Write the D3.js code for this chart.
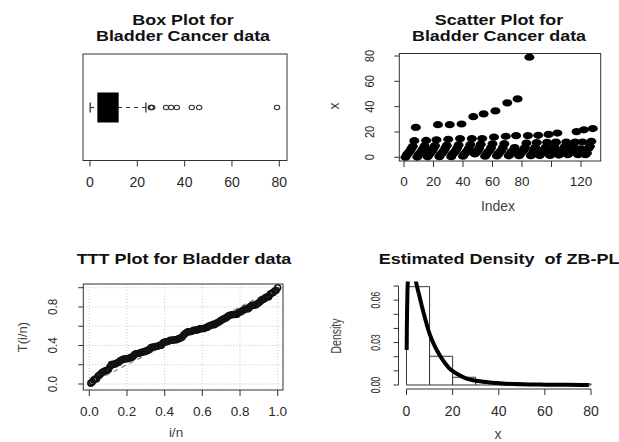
<!DOCTYPE html>
<html>
<head>
<meta charset="utf-8">
<script src="https://cdn.jsdelivr.net/npm/d3@7"></script>
<style>
  html, body { margin: 0; padding: 0; background: #fff; }
  svg { display: block; }
  text { font-family: 'Liberation Sans', Arial, sans-serif; white-space: pre; }
</style>
</head>
<body>
<svg id="chart" width="619" height="442"></svg>
<script>
// ---------------- data ----------------
// Bladder cancer remission times (128 patients), in plotting order (Index 1..128)
const remission = [
  0.08, 2.09, 3.48, 4.87, 6.94, 8.66, 13.11, 23.63,
  0.20, 2.23, 3.52, 4.98, 6.97, 9.02, 13.29,
  0.40, 2.26, 3.57, 5.06, 7.09, 9.22, 13.80, 25.74,
  0.50, 2.46, 3.64, 5.09, 7.26, 9.47, 14.24, 25.82,
  0.51, 2.54, 3.70, 5.17, 7.28, 9.74, 14.76, 26.31,
  0.81, 2.62, 3.82, 5.32, 7.32, 10.06, 14.77, 32.15,
  2.64, 3.88, 5.32, 7.39, 10.34, 14.83, 34.26,
  0.90, 2.69, 4.18, 5.34, 7.59, 10.66, 15.96, 36.66,
  1.05, 2.69, 4.23, 5.41, 7.62, 10.75, 16.62, 43.01,
  1.19, 2.75, 4.26, 5.41, 7.63, 17.12, 46.12,
  1.26, 2.83, 4.33, 5.49, 7.66, 11.25, 17.14, 79.05,
  1.35, 2.87, 5.62, 7.87, 11.64, 17.36,
  1.40, 3.02, 4.34, 5.71, 7.93, 11.79, 18.10,
  1.46, 4.40, 5.85, 8.26, 11.98, 19.13,
  1.76, 3.25, 4.50, 6.25, 8.37, 12.02,
  2.02, 3.31, 4.51, 6.54, 8.53, 12.03, 20.28,
  2.02, 3.36, 6.76, 12.07, 21.73,
  2.07, 3.36, 6.93, 8.65, 12.63, 22.69
];

const titles = {
  box: ["Box Plot for", "Bladder Cancer data"],
  scatter: ["Scatter Plot for", "Bladder Cancer data"],
  ttt: "TTT Plot for Bladder data",
  dens: "Estimated Density  of ZB-PL"
};

const boxTicks = [0, 20, 40, 60, 80];
const scatterXTicks = [0, 20, 40, 60, 80, 100, 120];
const scatterXLabels = ["0", "20", "40", "60", "80", "", "120"];
const scatterYTicks = [0, 20, 40, 60, 80];
const tttTicks = [0, 0.2, 0.4, 0.6, 0.8, 1.0];
const tttXLabels = ["0.0", "0.2", "0.4", "0.6", "0.8", "1.0"];
const tttYLabels = ["0.0", "", "0.4", "", "0.8", ""];
const densXTicks = [0, 20, 40, 60, 80];
const densYTicks = [0, 0.01, 0.02, 0.03, 0.04, 0.05, 0.06, 0.07];
const densYLabels = ["0.00", "", "", "0.03", "", "", "0.06", ""];
const histBreaks = [0, 10, 20, 30, 40, 50, 60, 70, 80];

// fitted ZB-PL density
const zbplX = [0.08, 0.15, 0.25, 0.4, 0.6, 1.0, 2.0, 3.0, 4.12, 5.29, 6.72, 8.15, 9.45, 11.36, 13.53, 15.7, 18.56, 22.2, 25.8, 30.9, 37.4, 43.1, 50, 60, 70, 79.05];
const zbplY = [0.0247, 0.040, 0.052, 0.065, 0.075, 0.085, 0.092, 0.085, 0.073, 0.0649, 0.0554, 0.0465, 0.0389, 0.0306, 0.0235, 0.0177, 0.0118, 0.0076, 0.0047, 0.0028, 0.0016, 0.0009, 0.0005, 0.00025, 0.00012, 0.00006];

// ---------------- helpers ----------------
const svg = d3.select("#chart");
svg.append("rect").attr("width", 619).attr("height", 442).attr("fill", "#fff");

function txt(x, y, s, o = {}) {
  let tr = `translate(${x},${y})` + (o.rot ? " rotate(-90)" : "") + ` scale(${o.sx || 1},1)`;
  return svg.append("text")
    .attr("transform", tr)
    .attr("text-anchor", o.anchor || "middle")
    .style("font-size", (o.size || 13.5) + "px")
    .style("font-weight", o.bold ? "bold" : "normal")
    .attr("fill", o.fill || "#2a2a2a")
    .text(s);
}
function line(x1, y1, x2, y2, o = {}) {
  return svg.append("line").attr("x1", x1).attr("y1", y1).attr("x2", x2).attr("y2", y2)
    .attr("stroke", o.stroke || "#333").attr("stroke-width", o.w || 1)
    .attr("stroke-dasharray", o.dash || null);
}
function frame(f) {
  svg.append("rect").attr("x", f.x0).attr("y", f.y0).attr("width", f.x1 - f.x0).attr("height", f.y1 - f.y0)
    .attr("fill", "none").attr("stroke", "#333").attr("stroke-width", 1);
}
function title2(cx, lines) {
  txt(cx, 25, lines[0], { size: 14, bold: true, sx: 1.28, fill: "#111" });
  txt(cx, 41, lines[1], { size: 14, bold: true, sx: 1.28, fill: "#111" });
}

// ---------------- Panel 1: Box plot ----------------
(function () {
  const f = { x0: 83, x1: 287, y0: 54, y1: 160.5 };
  const x = d3.scaleLinear().domain([0, 80]).range([90, 279.3]);
  frame(f);
  title2(183, titles.box);
  const s = remission.slice().sort(d3.ascending);
  const n = s.length;
  const n4 = Math.floor((n + 3) / 2) / 2;
  const at = d => 0.5 * (s[Math.floor(d) - 1] + s[Math.ceil(d) - 1]);
  const q1 = at(n4), med = at((n + 1) / 2), q3 = at(n + 1 - n4);
  const iqr = q3 - q1;
  const hiW = d3.max(s.filter(v => v <= q3 + 1.5 * iqr));
  const loW = d3.min(s.filter(v => v >= q1 - 1.5 * iqr));
  const outl = s.filter(v => v > hiW || v < loW);
  const cy = 107.5, hh = 14.5, sh = 5;
  line(x(q3), cy, x(hiW), cy, { dash: "4,4", w: 1.2 });
  line(x(loW), cy, x(q1), cy, { dash: "4,4", w: 1.2 });
  line(x(hiW), cy - sh, x(hiW), cy + sh, { w: 1.3 });
  line(x(loW), cy - sh, x(loW), cy + sh, { w: 1.3 });
  svg.append("rect").attr("x", x(q1)).attr("y", cy - hh).attr("width", x(q3) - x(q1)).attr("height", 2 * hh)
    .attr("fill", "#000").attr("stroke", "#000");
  line(x(med), cy - hh, x(med), cy + hh, { stroke: "#000", w: 2 });
  svg.append("g").selectAll("ellipse").data(outl).join("ellipse")
    .attr("cx", d => x(d)).attr("cy", cy).attr("rx", 2.7).attr("ry", 2.2)
    .attr("fill", "none").attr("stroke", "#333").attr("stroke-width", 1.1);
  // x axis
  line(x(0), f.y1, x(80), f.y1);
  boxTicks.forEach(t => {
    line(x(t), f.y1, x(t), f.y1 + 6);
    txt(x(t), 186.5, String(t), { size: 14 });
  });
})();

// ---------------- Panel 2: Scatter plot ----------------
(function () {
  const f = { x0: 399.3, x1: 600.7, y0: 53.5, y1: 161 };
  const x = d3.scaleLinear().domain([0, 120]).range([404, 581]);
  const y = d3.scaleLinear().domain([0, 80]).range([157.3, 56]);
  frame(f);
  title2(499, titles.scatter);
  svg.append("g").selectAll("ellipse").data(remission).join("ellipse")
    .attr("cx", (d, i) => x(i + 1)).attr("cy", d => y(d)).attr("rx", 5).attr("ry", 3.6)
    .attr("fill", "#000");
  scatterXTicks.forEach((t, i) => {
    line(x(t), f.y1, x(t), f.y1 + 6);
    if (scatterXLabels[i]) txt(x(t), 186, scatterXLabels[i], { size: 13.5 });
  });
  scatterYTicks.forEach(t => {
    line(f.x0, y(t), f.x0 - 5, y(t));
    txt(373.5, y(t), String(t), { size: 13, rot: true, sx: 0.85 });
  });
  txt(498, 211, "Index", { size: 14, fill: "#444" });
  txt(338.5, 106, "x", { size: 14, rot: true, fill: "#444" });
})();

// ---------------- Panel 3: TTT plot ----------------
(function () {
  const f = { x0: 83.3, x1: 283, y0: 284, y1: 390 };
  const x = d3.scaleLinear().domain([0, 1]).range([89.3, 277.7]);
  const y = d3.scaleLinear().domain([0, 1]).range([384, 287.7]);
  txt(184, 263.5, titles.ttt, { size: 15, bold: true, sx: 1.2, fill: "#111" });
  // grid
  tttTicks.forEach(t => {
    line(x(t), f.y0, x(t), f.y1, { stroke: "#c8c8c8", dash: "1,2" });
    line(f.x0, y(t), f.x1, y(t), { stroke: "#c8c8c8", dash: "1,2" });
  });
  // TTT transform of the data
  const s = remission.slice().sort(d3.ascending);
  const n = s.length, tot = d3.sum(s);
  const pts = [];
  let cum = 0;
  s.forEach((v, i) => { cum += v; pts.push([(i + 1) / n, (cum + (n - i - 1) * v) / tot]); });
  line(x(0), y(0), x(1), y(1), { stroke: "#888", dash: "5,4", w: 1.2 });
  svg.append("g").selectAll("circle").data(pts).join("circle")
    .attr("cx", d => x(d[0])).attr("cy", d => y(d[1])).attr("r", 2.9)
    .attr("fill", "none").attr("stroke", "#111").attr("stroke-width", 1.6);
  frame(f);
  tttTicks.forEach((t, i) => {
    line(x(t), f.y1, x(t), f.y1 + 6);
    txt(x(t), 416, tttXLabels[i], { size: 13.5 });
    line(f.x0, y(t), f.x0 - 5, y(t));
    if (tttYLabels[i]) txt(56.7, y(t), tttYLabels[i], { size: 13, rot: true, sx: 0.9 });
  });
  txt(176, 437, "i/n", { size: 13.5, fill: "#444" });
  txt(27, 337, "T(i/n)", { size: 13, rot: true, fill: "#444" });
})();

// ---------------- Panel 4: Histogram + density ----------------
(function () {
  const x = d3.scaleLinear().domain([0, 80]).range([406.5, 591]);
  const y = d3.scaleLinear().domain([0, 0.07]).range([385, 286]);
  txt(499, 263.5, titles.dens, { size: 15, bold: true, sx: 1.2, fill: "#111" });
  svg.append("clipPath").attr("id", "dclip").append("rect")
    .attr("x", 397).attr("y", 281.5).attr("width", 205).attr("height", 108);
  const bins = d3.bin().domain([0, 80]).thresholds(histBreaks)(remission);
  const n = remission.length;
  svg.append("g").selectAll("path").data(bins).join("path")
    .attr("d", b => {
      const h = y(b.length / (n * (b.x1 - b.x0)));
      return `M${x(b.x0)},${y(0)}V${h}H${x(b.x1)}V${y(0)}Z`;
    })
    .attr("fill", "#fff").attr("stroke", "#333").attr("stroke-width", 1);
  const pts = zbplX.map((v, i) => [v, zbplY[i]]);
  svg.append("path").datum(pts)
    .attr("clip-path", "url(#dclip)")
    .attr("d", d3.line().x(d => x(d[0])).y(d => y(d[1])).curve(d3.curveMonotoneX))
    .attr("fill", "none").attr("stroke", "#000").attr("stroke-width", 4).attr("stroke-linejoin", "round");
  // axes
  line(x(0), 389, x(80), 389);
  densXTicks.forEach(t => {
    line(x(t), 389, x(t), 395);
    txt(x(t), 415.5, String(t), { size: 14 });
  });
  line(398.5, y(0), 398.5, y(0.07));
  densYTicks.forEach((t, i) => {
    line(398.5, y(t), 393.5, y(t));
    if (densYLabels[i]) txt(380, y(t), densYLabels[i], { size: 13.5, rot: true, sx: 0.63 });
  });
  txt(498, 439, "x", { size: 14, fill: "#444" });
  txt(341, 336, "Density", { size: 14, rot: true, sx: 0.75, fill: "#444" });
})();
</script>
</body>
</html>
